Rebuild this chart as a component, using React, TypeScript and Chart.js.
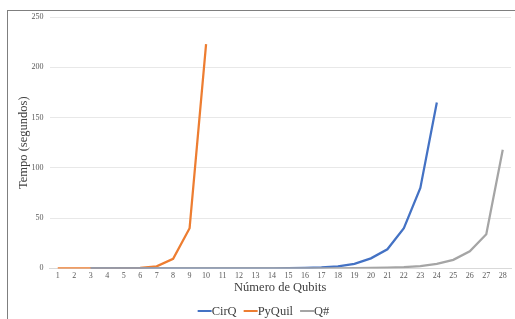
import React, { useEffect, useRef } from "react";
import { Chart, registerables } from "chart.js";
Chart.register(...registerables);

const categories = Array.from({ length: 28 }, (_, i) => String(i + 1));
const cirqValues = [null, null, 0, 0, 0, 0, 0, 0, 0, 0, 0, 0.05, 0.08, 0.12, 0.2, 0.4, 0.9, 2, 4.5, 10, 19, 40, 80, 165];
const pyquilValues = [0, 0, 0, 0, 0.2, 0.6, 2, 9.5, 40, 223];
const qsharpValues = [null, null, 0, 0, 0, 0, 0, 0, 0, 0, 0, 0, 0, 0, 0, 0, 0.05, 0.1, 0.2, 0.4, 0.8, 1.3, 2.3, 4.5, 8.5, 17, 34, 118];
const yTicks = [0, 50, 100, 150, 200, 250];

const SERIF = "'Liberation Serif', 'DejaVu Serif', serif";

const lineLegend = {
  id: "lineLegend",
  afterDraw(chart: any) {
    const ctx = chart.ctx as CanvasRenderingContext2D;
    const items = chart.data.datasets.map((d: any) => ({ label: d.label as string, color: d.borderColor as string }));
    const fontSize = 12.5;
    const lineW = 14;
    const gap = 7;
    ctx.save();
    ctx.font = `${fontSize}px ${SERIF}`;
    const widths = items.map((it: any) => lineW + ctx.measureText(it.label).width);
    const total = widths.reduce((a: number, b: number) => a + b, 0) + gap * (items.length - 1);
    let x = (chart.width - total) / 2 + 6;
    const y = 311;
    ctx.textBaseline = "middle";
    ctx.textAlign = "left";
    items.forEach((it: any, i: number) => {
      ctx.strokeStyle = it.color;
      ctx.lineWidth = 2;
      ctx.beginPath();
      ctx.moveTo(x, y);
      ctx.lineTo(x + lineW, y);
      ctx.stroke();
      ctx.fillStyle = "#404040";
      ctx.fillText(it.label, x + lineW, y + 0.5);
      x += widths[i] + gap;
    });
    ctx.restore();
  },
};

export default function App() {
  const ref = useRef<HTMLCanvasElement>(null);
  useEffect(() => {
    const chart = new Chart(ref.current!, {
      type: "line",
      data: {
        labels: categories,
        datasets: [
          { label: "CirQ", data: cirqValues, order: 1, borderColor: "#4472C4", backgroundColor: "#4472C4", borderWidth: 2.25, pointRadius: 0, tension: 0 },
          { label: "PyQuil", data: pyquilValues, order: 2, borderColor: "#ED7D31", backgroundColor: "#ED7D31", borderWidth: 2.25, pointRadius: 0, tension: 0 },
          { label: "Q#", data: qsharpValues, order: 0, borderColor: "#A5A5A5", backgroundColor: "#A5A5A5", borderWidth: 2.25, pointRadius: 0, tension: 0 },
        ],
      },
      options: {
        animation: false,
        responsive: false,
        layout: { padding: { left: 16.5, right: 4, top: 17, bottom: 24 } },
        plugins: {
          tooltip: { enabled: false },
          legend: { display: false },
        },
        scales: {
          x: {
            offset: true,
            grid: { display: false, drawTicks: false },
            border: { color: "#d9d9d9", width: 1 },
            ticks: { color: "#595959", font: { family: SERIF, size: 8 }, maxRotation: 0, autoSkip: false, padding: 3 },
            title: { display: true, text: "Número de Qubits", color: "#404040", font: { family: SERIF, size: 12.5 }, padding: { top: -4, bottom: 0 } },
          },
          y: {
            min: 0,
            max: 250,
            afterBuildTicks: (axis: any) => {
              axis.ticks = yTicks.map((v) => ({ value: v }));
            },
            grid: { color: "#e8e8e8", drawTicks: false },
            border: { display: false },
            ticks: { color: "#595959", font: { family: SERIF, size: 8 }, padding: 6 },
            title: { display: true, text: "Tempo (segundos)", color: "#404040", font: { family: SERIF, size: 12.5 }, padding: { top: 0, bottom: -6 } },
          },
        },
      },
      plugins: [lineLegend],
    });
    return () => chart.destroy();
  }, []);
  return (
    <div style={{ position: "fixed", left: 0, top: 0, width: 515, height: 319, background: "#fff", overflow: "hidden" }}>
      <div style={{ position: "absolute", left: 7, top: 10, width: 600, height: 400, borderLeft: "1px solid #7f7f7f", borderTop: "1px solid #7f7f7f" }} />
      <canvas ref={ref} width={515} height={319} style={{ position: "absolute", left: 0, top: 0 }} />
    </div>
  );
}
